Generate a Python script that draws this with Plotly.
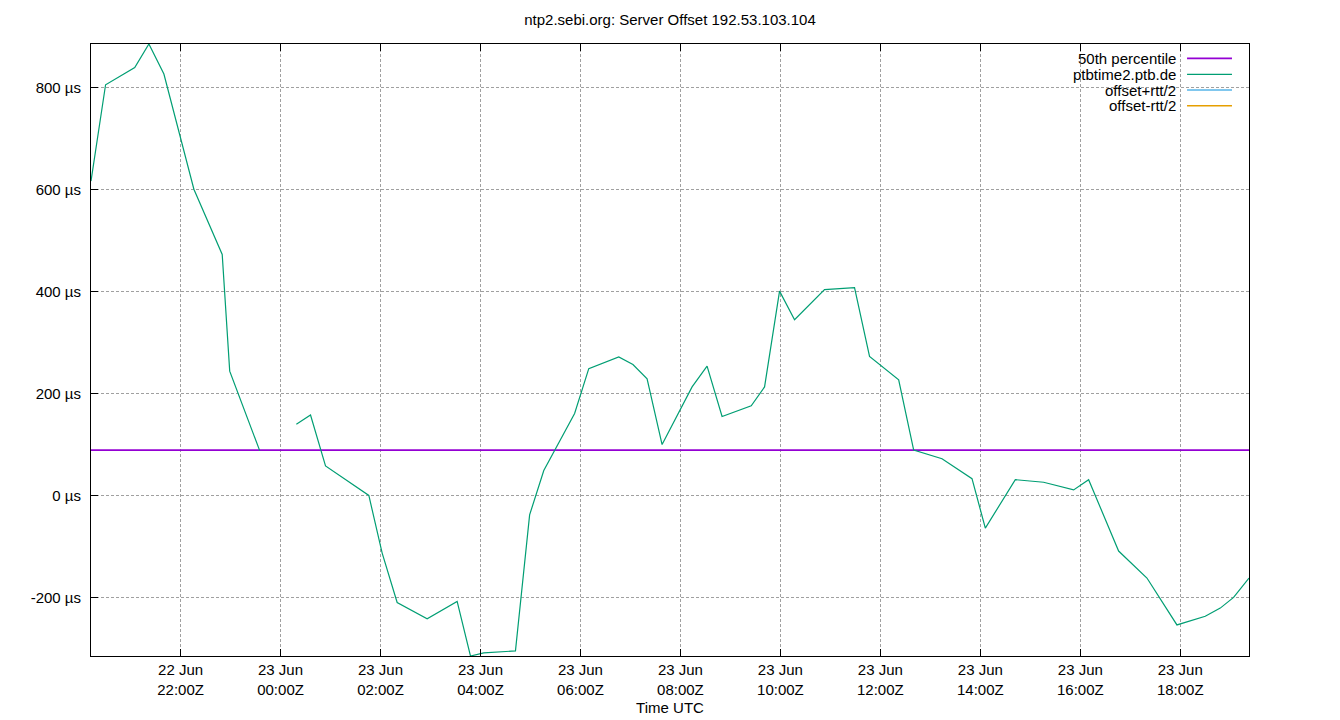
import plotly.graph_objects as go

# ---- data ----
times = [
    "2023-06-22 20:12:30", "2023-06-22 20:30", "2023-06-22 21:05", "2023-06-22 21:22",
    "2023-06-22 21:40", "2023-06-22 22:16", "2023-06-22 22:50", "2023-06-22 22:59",
    "2023-06-22 23:35", "2023-06-23 00:00",
    "2023-06-23 00:19", "2023-06-23 00:36", "2023-06-23 00:54", "2023-06-23 01:46",
    "2023-06-23 02:02", "2023-06-23 02:20", "2023-06-23 02:56", "2023-06-23 03:32",
    "2023-06-23 03:48", "2023-06-23 04:04", "2023-06-23 04:42", "2023-06-23 04:59",
    "2023-06-23 05:16", "2023-06-23 05:53", "2023-06-23 06:10", "2023-06-23 06:46",
    "2023-06-23 07:03", "2023-06-23 07:20", "2023-06-23 07:38", "2023-06-23 08:14",
    "2023-06-23 08:32", "2023-06-23 08:50", "2023-06-23 09:25", "2023-06-23 09:41",
    "2023-06-23 09:59", "2023-06-23 10:17", "2023-06-23 10:53", "2023-06-23 11:29",
    "2023-06-23 11:47", "2023-06-23 12:22", "2023-06-23 12:40", "2023-06-23 13:14",
    "2023-06-23 13:50", "2023-06-23 14:06", "2023-06-23 14:42", "2023-06-23 15:16",
    "2023-06-23 15:52", "2023-06-23 16:10", "2023-06-23 16:46", "2023-06-23 17:20",
    "2023-06-23 17:56", "2023-06-23 18:30", "2023-06-23 18:48", "2023-06-23 19:04",
    "2023-06-23 19:22:30",
]
offset_us = [
    617, 806, 840, 886,
    827, 601, 473, 244,
    88, None,
    140, 158, 58, 0,
    -113, -210, -242, -208,
    -315, -309, -305, -38,
    49, 161, 249, 272,
    257, 229, 100, 213,
    254, 155, 176, 213,
    401, 345, 404, 408,
    273, 227, 89, 72,
    33, -64, 31, 26,
    11, 31, -109, -162,
    -254, -237, -221, -200,
    -162,
]
median_us = 89

tick_vals = [
    "2023-06-22 22:00", "2023-06-23 00:00", "2023-06-23 02:00", "2023-06-23 04:00",
    "2023-06-23 06:00", "2023-06-23 08:00", "2023-06-23 10:00", "2023-06-23 12:00",
    "2023-06-23 14:00", "2023-06-23 16:00", "2023-06-23 18:00",
]
tick_text = [
    "22 Jun<br>22:00Z", "23 Jun<br>00:00Z", "23 Jun<br>02:00Z", "23 Jun<br>04:00Z",
    "23 Jun<br>06:00Z", "23 Jun<br>08:00Z", "23 Jun<br>10:00Z", "23 Jun<br>12:00Z",
    "23 Jun<br>14:00Z", "23 Jun<br>16:00Z", "23 Jun<br>18:00Z",
]
y_ticks = [-200, 0, 200, 400, 600, 800]
y_tick_text = ["-200 µs", "0 µs", "200 µs", "400 µs", "600 µs", "800 µs"]
y_range = [-315, 886]

legend_names = ["50th percentile", "ptbtime2.ptb.de", "offset+rtt/2", "offset-rtt/2"]
colors = ["#9400d3", "#009e73", "#56b4e9", "#e69f00"]

FONT = "Liberation Sans, Arial, sans-serif"

fig = go.Figure()
fig.add_trace(go.Scatter(x=[times[0], times[-1]], y=[median_us, median_us], mode="lines",
                         line=dict(color=colors[0], width=1.7), name=legend_names[0]))
fig.add_trace(go.Scatter(x=times, y=offset_us, mode="lines", connectgaps=False,
                         line=dict(color=colors[1], width=1.2), name=legend_names[1]))

grid = dict(showgrid=True, gridcolor="#a0a0a0", gridwidth=1, griddash="3px,2px")

fig.update_xaxes(
    type="date", range=[times[0], times[-1]], automargin=False,
    tickmode="array", tickvals=tick_vals, ticktext=tick_text,
    ticks="inside", ticklen=7, tickcolor="black", tickwidth=1,
    showline=True, linecolor="black", linewidth=1, mirror="ticks",
    zeroline=False,
    title=dict(text="Time UTC", font=dict(size=15, color="black", family=FONT), standoff=5),
    tickfont=dict(size=15, color="black", family=FONT),
    **grid,
)
fig.update_yaxes(
    range=y_range, tickmode="array", tickvals=y_ticks, ticktext=y_tick_text, automargin=False,
    ticks="inside", ticklen=7, tickcolor="black", tickwidth=1,
    showline=True, linecolor="black", linewidth=1, mirror=True,
    zeroline=False, ticklabelstandoff=6,
    tickfont=dict(size=15, color="black", family=FONT),
    **grid,
)

# legend box (gnuplot style: text right-aligned, sample line on the right)
fig.add_shape(type="rect", xref="paper", yref="paper", x0=0.8239, x1=0.9922, y0=0.8873, y1=1.0,
              fillcolor="white", line=dict(width=0), layer="between")
leg_y = [0.9766, 0.9505, 0.9248, 0.8991]
leg_w = [1.7, 1.2, 1.7, 1.3]
for name, col, yy, w in zip(legend_names, colors, leg_y, leg_w):
    fig.add_annotation(x=0.9388, y=yy, xref="paper", yref="paper", text=name, showarrow=False,
                       xanchor="right", yanchor="middle",
                       font=dict(size=15, color="black", family=FONT))
    fig.add_shape(type="line", xref="paper", yref="paper", x0=0.9465, x1=0.9853, y0=yy, y1=yy,
                  line=dict(color=col, width=w), layer="above")

fig.update_layout(
    width=1340, height=720,
    margin=dict(l=91, r=91, t=44, b=64),
    paper_bgcolor="white", plot_bgcolor="white",
    showlegend=False,
    title=dict(text="ntp2.sebi.org: Server Offset 192.53.103.104", x=0.5, xref="paper",
               xanchor="center", y=1 - 20 / 720, yanchor="middle",
               font=dict(size=15, color="black", family=FONT)),
    font=dict(family=FONT, color="black"),
)

fig.write_html("out.html", config={"displayModeBar": False},
               post_script="document.body.style.margin='0';document.body.style.overflow='hidden';")
